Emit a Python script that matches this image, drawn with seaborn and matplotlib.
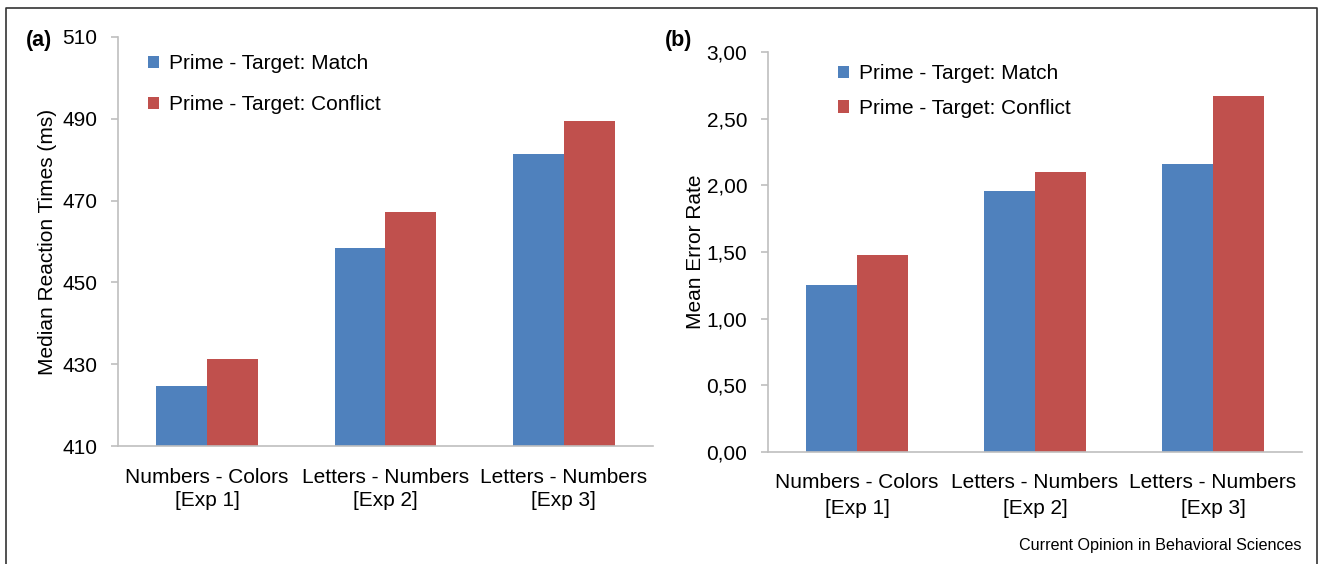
import pandas as pd
import matplotlib.pyplot as plt
import seaborn as sns
from matplotlib.ticker import FixedLocator

# Data
categories = ['Numbers - Colors\n[Exp 1]', 'Letters - Numbers\n[Exp 2]', 'Letters - Numbers\n[Exp 3]']
conditions = ['Prime - Target: Match', 'Prime - Target: Conflict']
rt_match = [424.7, 458.3, 481.4]
rt_conflict = [431.2, 467.1, 489.4]
err_match = [1.25, 1.96, 2.16]
err_conflict = [1.48, 2.10, 2.67]

rt_ticks = [410, 430, 450, 470, 490, 510]
rt_ticklabels = ['410', '430', '450', '470', '490', '510']
err_ticks = [0.0, 0.5, 1.0, 1.5, 2.0, 2.5, 3.0]
err_ticklabels = ['0,00', '0,50', '1,00', '1,50', '2,00', '2,50', '3,00']

colors = ['#4F81BD', '#C0504D']
axis_grey = '#BFBFBF'

sns.set_style('white')
plt.rcParams['font.family'] = ['Liberation Sans', 'DejaVu Sans']
plt.rcParams['text.color'] = 'black'
plt.rcParams['axes.labelcolor'] = 'black'
plt.rcParams['xtick.color'] = 'black'
plt.rcParams['ytick.color'] = 'black'


def make_df(match, conflict):
    return pd.DataFrame({
        'category': categories * 2,
        'condition': [conditions[0]] * 3 + [conditions[1]] * 3,
        'value': list(match) + list(conflict),
    })


def style_panel(ax, ticks, ticklabels, ylim, ylabel, labelpad, xpad, linesp,
                legend_anchor, legend_spacing):
    ax.set_ylim(*ylim)
    ax.set_xlim(-0.5, 2.5)
    ax.set_yticks(ticks)
    ax.set_yticklabels(ticklabels, fontsize=15)
    ax.set_xticks(range(3))
    ax.set_xticklabels(categories, fontsize=15, linespacing=linesp)
    ax.xaxis.set_minor_locator(FixedLocator([-0.5, 0.5, 1.5, 2.5]))
    ax.tick_params(axis='x', which='major', length=0, pad=xpad)
    ax.tick_params(axis='x', which='minor', length=7, color=axis_grey, width=1.2)
    ax.tick_params(axis='y', length=5, color=axis_grey, width=1.2, pad=10, left=True)
    for side in ['top', 'right']:
        ax.spines[side].set_visible(False)
    for side in ['left', 'bottom']:
        ax.spines[side].set_color(axis_grey)
        ax.spines[side].set_linewidth(1.2)
    ax.set_xlabel('')
    ax.set_ylabel(ylabel, fontsize=15, labelpad=labelpad)
    ax.legend(loc='upper left', bbox_to_anchor=legend_anchor, frameon=False,
              fontsize=15, handlelength=0.55, handleheight=0.55,
              handletextpad=0.45, labelspacing=legend_spacing, borderaxespad=0)


fig = plt.figure(figsize=(13.21, 5.64), dpi=100)

# (a) reaction times
ax1 = fig.add_axes([0.0893, 0.2092, 0.405, 0.7252])
sns.barplot(data=make_df(rt_match, rt_conflict), x='category', y='value',
            hue='condition', palette=colors, width=0.57, saturation=1,
            linewidth=0, ax=ax1)
style_panel(ax1, rt_ticks, rt_ticklabels, (410, 510),
            'Median Reaction Times (ms)', 4, 16, 1.25, (0.04, 0.978), 1.05)

# (b) error rates
ax2 = fig.add_axes([0.5814, 0.1986, 0.4042, 0.7092])
sns.barplot(data=make_df(err_match, err_conflict), x='category', y='value',
            hue='condition', palette=colors, width=0.57, saturation=1,
            linewidth=0, ax=ax2)
style_panel(ax2, err_ticks, err_ticklabels, (0, 3.0),
            'Mean Error Rate', 1, 15, 1.45, (0.115, 0.99), 0.75)

# panel labels and source
fig.text(0.0195, 0.928, '(a)', fontsize=15.5, fontweight='bold', va='center')
fig.text(0.5035, 0.928, '(b)', fontsize=15.5, fontweight='bold', va='center')
fig.text(0.985, 0.032, 'Current Opinion in Behavioral Sciences', fontsize=11.6,
         ha='right', va='center')

# thin frame around the whole figure (bottom edge is cut off)
fig.add_artist(plt.Line2D([0.0045, 0.0045, 0.997, 0.997], [-0.01, 0.986, 0.986, -0.01],
                          transform=fig.transFigure, color='#333333', lw=1.2))

fig.savefig('out.png', dpi=100)
